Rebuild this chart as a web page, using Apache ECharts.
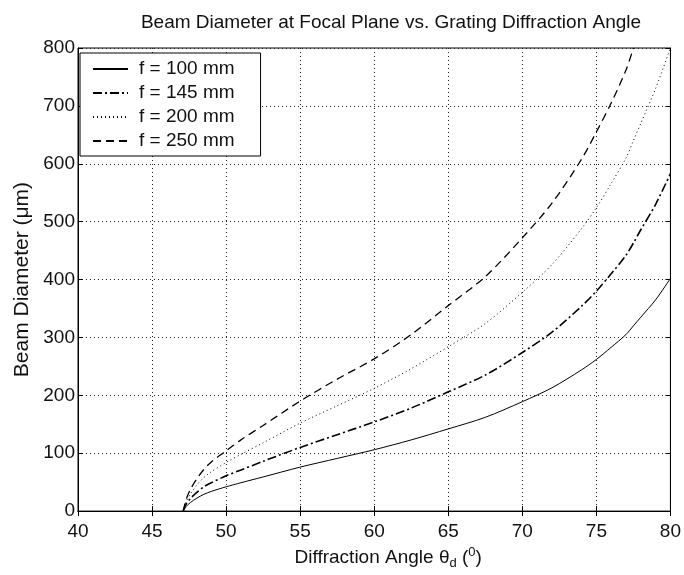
<!DOCTYPE html>
<html>
<head>
<meta charset="utf-8">
<script src="https://cdn.jsdelivr.net/npm/echarts@6/dist/echarts.min.js"></script>
<style>
  html, body { margin: 0; padding: 0; background: #fff; }
  #chart { width: 684px; height: 575px; }
</style>
</head>
<body>
<div id="chart"></div>
<script>
  // diffraction angle (deg) sample points
  const angles = [47.1, 47.3, 47.6, 48, 48.5, 49, 50, 51, 52.5, 55, 57.5, 60, 62.5, 65, 67.5, 70, 72, 74, 75, 76, 77, 77.5, 78, 79, 80];

  // beam diameter (um) for each focal length
  const f100 = [0, 8, 15, 22, 29, 34, 42, 49, 59, 76, 91, 106, 123, 142, 162, 189, 213, 244, 262, 283, 305, 320, 335, 365, 402];
  const f145 = [0, 12, 22, 32, 42, 49, 61, 71, 86, 110, 132, 154, 178, 206, 235, 274, 309, 354, 380, 410, 442, 463, 486, 530, 583];
  const f200 = [0, 16, 30, 44, 58, 68, 84, 98, 118, 152, 182, 212, 246, 284, 324, 378, 426, 488, 524, 566, 610, 640, 670, 730, 800];
  const f250 = [0, 20, 38, 55, 72, 85, 104, 123, 148, 190, 228, 263, 305, 355, 405, 472, 532, 608, 655, 705, 762, 800, null, null, null];

  const seriesNames = ['f = 100 mm', 'f = 145 mm', 'f = 200 mm', 'f = 250 mm'];
  const seriesValues = [f100, f145, f200, f250];
  const dashes = ['solid', [9, 3, 2, 3], [1, 3], [8, 5]];
  const widths = [1, 1.6, 1, 1.3];

  const xTicks = { min: 40, max: 80, interval: 5 };
  const yTicks = { min: 0, max: 800, interval: 100 };

  const chart = echarts.init(document.getElementById('chart'));
  const font = '"Liberation Sans", Arial, Helvetica, sans-serif';

  const gridLine = { show: true, lineStyle: { color: '#222', type: [1, 3], width: 1 } };
  const tick = { show: true, inside: true, length: 5, lineStyle: { color: '#000' } };

  const series = seriesValues.map((vals, i) => ({
    name: seriesNames[i],
    type: 'line',
    symbol: 'none',
    smooth: 0.3,
    clip: true,
    lineStyle: { color: '#000', width: widths[i], type: dashes[i] },
    itemStyle: { color: '#000' },
    data: angles.map((a, j) => [a, vals[j]]).filter(p => p[1] !== null)
  }));

  const option = {
    animation: false,
    backgroundColor: '#fff',
    textStyle: { fontFamily: font },
    title: {
      text: 'Beam Diameter at Focal Plane vs. Grating Diffraction Angle',
      left: 386,
      textAlign: 'center',
      top: 8,
      textStyle: { fontSize: 19, fontWeight: 'normal', color: '#111', fontFamily: font }
    },
    legend: {
      orient: 'vertical',
      left: 80,
      top: 53,
      padding: [6, 26, 5, 12],
      itemGap: 4,
      itemWidth: 35,
      itemHeight: 14,
      backgroundColor: '#fff',
      borderColor: '#000',
      borderWidth: 1,
      borderRadius: 0,
      itemStyle: { opacity: 0 },
      textStyle: { fontSize: 19, lineHeight: 20, color: '#111', fontFamily: font, padding: [0, 0, 0, 6] },
      data: seriesNames
    },
    grid: {
      left: 78, right: 12, top: 48, bottom: 58,
      show: true, borderColor: '#000', borderWidth: 1
    },
    xAxis: [{
      type: 'value',
      min: xTicks.min, max: xTicks.max, interval: xTicks.interval,
      axisLine: { show: true, lineStyle: { color: '#000' } },
      axisTick: tick,
      splitLine: gridLine,
      axisLabel: { fontSize: 19, color: '#111', margin: 11, fontFamily: font },
      name: '{n|Diffraction Angle θ}{sub|d}{n| (}{sup|0}{n|)}',
      nameLocation: 'middle',
      nameGap: 29,
      nameTextStyle: {
        padding: [0, 0, 0, 28],
        rich: {
          n: { fontSize: 19, color: '#111', fontFamily: font },
          sub: { fontSize: 13, color: '#111', fontFamily: font, verticalAlign: 'bottom', padding: [11, 0, 0, 0] },
          sup: { fontSize: 13, color: '#111', fontFamily: font, verticalAlign: 'top', padding: [0, 0, 9, 0] }
        }
      }
    }, {
      type: 'value', position: 'top',
      min: xTicks.min, max: xTicks.max, interval: xTicks.interval,
      axisLine: { show: true, lineStyle: { color: '#000' } },
      axisTick: tick, axisLabel: { show: false }, splitLine: { show: false }
    }],
    yAxis: [{
      type: 'value',
      min: yTicks.min, max: yTicks.max, interval: yTicks.interval,
      axisLine: { show: true, lineStyle: { color: '#000' } },
      axisTick: tick,
      splitLine: gridLine,
      axisLabel: { fontSize: 19, color: '#111', margin: 3, fontFamily: font },
      name: 'Beam Diameter (μm)',
      nameLocation: 'middle',
      nameGap: 44,
      nameTextStyle: { fontSize: 21, color: '#111', fontFamily: font }
    }, {
      type: 'value', position: 'right',
      min: yTicks.min, max: yTicks.max, interval: yTicks.interval,
      axisLine: { show: true, lineStyle: { color: '#000' } },
      axisTick: tick, axisLabel: { show: false }, splitLine: { show: false }
    }],
    series: series
  };

  chart.setOption(option);
  window.addEventListener('resize', () => chart.resize());
</script>
</body>
</html>
